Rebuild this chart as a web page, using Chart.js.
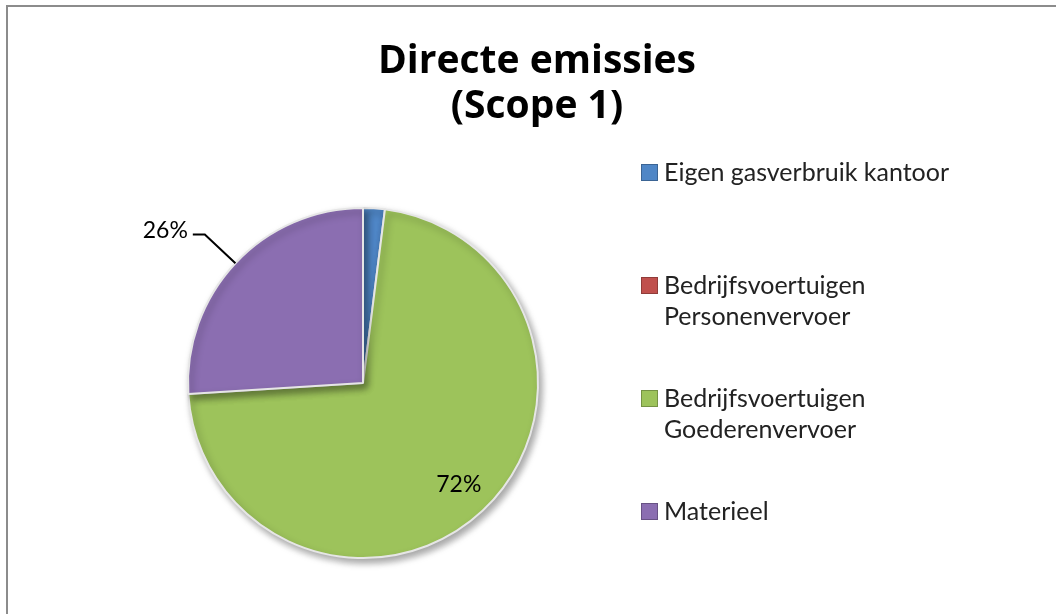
<!DOCTYPE html>
<html>
<head>
<meta charset="utf-8">
<script src="https://cdn.jsdelivr.net/npm/chart.js@4.4.1/dist/chart.umd.min.js"></script>
<style>
  html, body { margin: 0; padding: 0; background: #ffffff; }
  #wrap { position: relative; width: 1056px; height: 614px; }
</style>
</head>
<body>
<div id="wrap"><canvas id="c" width="1056" height="614"></canvas></div>
<script>
// ---- data ----
const titleLines = ["Directe emissies", "(Scope 1)"];
const categories = [
  "Eigen gasverbruik kantoor",
  "Bedrijfsvoertuigen Personenvervoer",
  "Bedrijfsvoertuigen Goederenvervoer",
  "Materieel"
];
const legendLines = [
  ["Eigen gasverbruik kantoor"],
  ["Bedrijfsvoertuigen", "Personenvervoer"],
  ["Bedrijfsvoertuigen", "Goederenvervoer"],
  ["Materieel"]
];
const shares = [2, 0, 72, 26];
const colors = ["#4F86C6", "#C0504D", "#9DC35B", "#8B6EB1"];

const FONT = "Lato, 'Open Sans', 'DejaVu Sans', sans-serif";
const TITLE_FONT = "'Open Sans', Lato, 'DejaVu Sans', sans-serif";

const decorPlugin = {
  id: 'decor',
  beforeDatasetsDraw(chart) {
    const ctx = chart.ctx;
    ctx.save();
    ctx.shadowColor = 'rgba(0,0,0,0.35)';
    ctx.shadowBlur = 7;
    ctx.shadowOffsetX = 3;
    ctx.shadowOffsetY = 4;
  },
  afterDatasetsDraw(chart) {
    const ctx = chart.ctx;
    ctx.restore();
    // outer frame
    ctx.save();
    ctx.strokeStyle = '#8c8c8c';
    ctx.lineWidth = 2;
    ctx.beginPath();
    ctx.moveTo(7, 614);
    ctx.lineTo(7, 6);
    ctx.lineTo(1056, 6);
    ctx.stroke();
    ctx.restore();

    // title
    ctx.save();
    ctx.fillStyle = '#000';
    ctx.font = "bold 39px " + TITLE_FONT;
    ctx.textAlign = 'center';
    ctx.textBaseline = 'alphabetic';
    ctx.fillText(titleLines[0], 537, 73);
    ctx.fillText(titleLines[1], 537, 118);
    ctx.restore();

    // data labels
    const meta = chart.getDatasetMeta(0);
    const data = chart.data.datasets[0].data;
    const total = data.reduce((a, b) => a + b, 0);
    ctx.save();
    ctx.font = "23px " + FONT;
    ctx.fillStyle = '#000';
    ctx.strokeStyle = '#000';
    ctx.lineWidth = 2;
    meta.data.forEach((arc, i) => {
      const pct = Math.round(data[i] / total * 100);
      if (pct < 5) return;
      const p = arc.getProps(['x', 'y', 'startAngle', 'endAngle', 'outerRadius'], true);
      const mid = (p.startAngle + p.endAngle) / 2;
      const dx = Math.cos(mid), dy = Math.sin(mid);
      const text = pct + '%';
      if (pct < 50) {
        const ex = p.x + p.outerRadius * dx, ey = p.y + p.outerRadius * dy;
        const kx = p.x + (p.outerRadius + 42) * dx, ky = p.y + (p.outerRadius + 42) * dy;
        const hx = kx + (dx < 0 ? -12 : 12);
        ctx.beginPath();
        ctx.moveTo(ex, ey);
        ctx.lineTo(kx, ky);
        ctx.lineTo(hx, ky);
        ctx.stroke();
        ctx.textBaseline = 'middle';
        ctx.textAlign = dx < 0 ? 'right' : 'left';
        ctx.fillText(text, hx + (dx < 0 ? -5 : 5), ky - 4);
      } else {
        const r = p.outerRadius * 0.8;
        ctx.textAlign = 'center';
        ctx.textBaseline = 'middle';
        ctx.fillText(text, p.x + r * dx, p.y + r * dy);
      }
    });
    ctx.restore();

    // legend
    ctx.save();
    ctx.font = "25px " + FONT;
    ctx.textBaseline = 'alphabetic';
    ctx.textAlign = 'left';
    const startY = 172, step = 113, lineH = 31;
    legendLines.forEach((lines, i) => {
      const y = startY + i * step;
      ctx.fillStyle = colors[i];
      ctx.fillRect(641, y - 8, 17, 17);
      ctx.strokeStyle = 'rgba(0,0,0,0.25)';
      ctx.lineWidth = 1;
      ctx.strokeRect(641.5, y - 7.5, 16, 16);
      ctx.fillStyle = '#222';
      lines.forEach((t, j) => ctx.fillText(t, 664, y + 9 + j * lineH));
    });
    ctx.restore();
  }
};

new Chart(document.getElementById('c'), {
  type: 'pie',
  data: {
    labels: categories,
    datasets: [{
      data: shares,
      backgroundColor: colors,
      borderColor: '#e6e6e6',
      borderWidth: 2
    }]
  },
  options: {
    responsive: false,
    animation: false,
    layout: { padding: { left: 187, right: 517, top: 207, bottom: 55 } },
    plugins: {
      legend: { display: false },
      title: { display: false },
      tooltip: { enabled: false }
    }
  },
  plugins: [decorPlugin]
});
</script>
</body>
</html>
